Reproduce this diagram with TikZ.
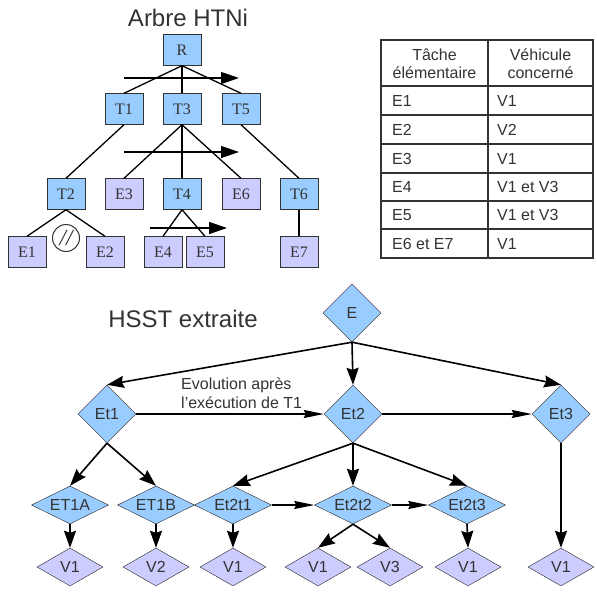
\documentclass[tikz,border=0pt]{standalone}
\usepackage{fontspec}
\setmainfont{Liberation Sans}
\newfontfamily\boxfont{Liberation Serif}
\usetikzlibrary{shapes.geometric, arrows.meta}

\definecolor{taskblue}{HTML}{99CCFF}
\definecolor{elemlilac}{HTML}{CCCCFF}
\definecolor{inkgray}{HTML}{333333}

\begin{document}
\begin{tikzpicture}[x=1pt, y=-1pt, >={Stealth[length=17pt, width=12pt, inset=2pt]},
  task/.style={draw=inkgray, fill=taskblue, minimum width=38pt, minimum height=31pt,
    inner sep=0pt, text=inkgray, font=\boxfont\fontsize{16}{16}\selectfont},
  elem/.style={task, fill=elemlilac},
  branch/.style={line width=1.3pt},
  order/.style={line width=1.3pt, -{Triangle[length=18pt, width=12pt]}},
  state/.style={diamond, draw=black!85, fill=taskblue, minimum width=58pt, minimum height=58pt,
    inner sep=0pt, text=inkgray, font=\fontsize{16}{16}\selectfont},
  substate/.style={state, aspect=2, minimum width=77pt, minimum height=38pt},
  vehicle/.style={state, aspect=2, fill=elemlilac, minimum width=66pt, minimum height=38pt},
  link/.style={line width=1.6pt, ->},
  flat/.style={line width=1.6pt, -{Stealth[length=20pt, width=8pt, inset=2pt]}},
  cell/.style={anchor=west, inner sep=0pt, text height=11.5pt, text depth=0pt,
    text=inkgray, font=\fontsize{16}{16}\selectfont}]

  \useasboundingbox (0,0) rectangle (597,597);

  %%%%%%%%%%%%%%%%%%%%%%%%%%%%%%%%%%%%%%%%%%%%%%%%%
  \begin{scope}
    % Title
    \node[text=inkgray, font=\fontsize{24}{24}\selectfont] (tree) at (188,18) {Arbre HTNi};

    % Boxes
    \node[task] (R) at (182,50) {R};
    \node[task] (T1) at (124,109) {T1};
    \node[task] (T3) at (182,109) {T3};
    \node[task] (T5) at (241,109) {T5};
    \node[task] (T2) at (66,194) {T2};
    \node[elem] (E3) at (124,194) {E3};
    \node[task] (T4) at (182,194) {T4};
    \node[elem] (E6) at (241,194) {E6};
    \node[task] (T6) at (299,194) {T6};
    \node[elem] (E1) at (27,252) {E1};
    \node[elem] (E2) at (105,252) {E2};
    \node[elem] (E4) at (163,252) {E4};
    \node[elem] (E5) at (205,252) {E5};
    \node[elem] (E7) at (299,252) {E7};

    % Branches
    \foreach \a/\b in {R/T1, R/T3, R/T5, T1/T2, T3/E3, T3/T4, T3/E6, T5/T6,
                       T2/E1, T2/E2, T4/E4, T4/E5, T6/E7}
      \draw[branch] (\a.south) -- (\b.north);

    % Parallel mark
    \node[circle, draw=inkgray, line width=1pt, fill=white, minimum size=27pt, inner sep=0pt,
          text=inkgray, font=\boxfont\itshape\fontsize{23}{23}\selectfont] (par) at (66,238) {//};

    % Order arrows
    \coordinate (o1) at (124,78);  \coordinate (o1e) at (239,78);
    \coordinate (o2) at (124,152); \coordinate (o2e) at (239,152);
    \coordinate (o3) at (150,228); \coordinate (o3e) at (227,228);
    \draw[order] (o1) -- (o1e);
    \draw[order] (o2) -- (o2e);
    \draw[order] (o3) -- (o3e);
  \end{scope}

  %%%%%%%%%%%%%%%%%%%%%%%%%%%%%%%%%%%%%%%%%%%%%%%%%
  \begin{scope}[draw=inkgray]
    % Grid
    \draw[line width=1.2pt, inkgray] (381,40) rectangle (593,258);
    \draw[line width=1.2pt, inkgray] (488,40) -- (488,258);
    \foreach \y in {86,115,144,173,201,229}
      \draw[line width=1.2pt, inkgray] (381,\y) -- (593,\y);

    % Header
    \node[align=center, text=inkgray, font=\fontsize{16}{18}\selectfont] (h1) at (434.5,64) {Tâche\\élémentaire};
    \node[align=center, text=inkgray, font=\fontsize{16}{18}\selectfont] (h2) at (540.5,64) {Véhicule\\concerné};

    % Rows
    \foreach \y/\a/\b [count=\i] in {100.5/E1/V1, 129.5/E2/V2, 158.5/E3/V1,
                                     187/E4/V1 et V3, 215/E5/V1 et V3, 243.5/E6 et E7/V1} {
      \node[cell] (a\i) at (392,\y) {\a};
      \node[cell] (b\i) at (497,\y) {\b};
    }
  \end{scope}

  %%%%%%%%%%%%%%%%%%%%%%%%%%%%%%%%%%%%%%%%%%%%%%%%%
  \begin{scope}
    % Title
    \node[text=inkgray, font=\fontsize{24}{24}\selectfont] (hsst) at (183,319) {HSST extraite};

    % States
    \node[state] (E) at (352,313) {E};
    \node[state] (Et1) at (107,414) {Et1};
    \node[state] (Et2) at (353,414) {Et2};
    \node[state] (Et3) at (561,414) {Et3};

    \node[substate] (ET1A) at (70,505) {ET1A};
    \node[substate] (ET1B) at (156,505) {ET1B};
    \node[substate] (Et2t1) at (233,505) {Et2t1};
    \node[substate] (Et2t2) at (353,505) {Et2t2};
    \node[substate] (Et2t3) at (467,505) {Et2t3};

    \node[vehicle] (va) at (70,567) {V1};
    \node[vehicle] (vb) at (156,567) {V2};
    \node[vehicle] (vc) at (233,567) {V1};
    \node[vehicle] (vd) at (318,567) {V1};
    \node[vehicle] (ve) at (390,567) {V3};
    \node[vehicle] (vf) at (468,567) {V1};
    \node[vehicle] (vg) at (561,567) {V1};

    % Transitions
    \foreach \a/\b in {E/Et1, E/Et2, E/Et3, Et1/ET1A, Et1/ET1B, Et2/Et2t1, Et2/Et2t2,
                       Et2/Et2t3, ET1A/va, ET1B/vb, Et2t1/vc, Et2t2/vd, Et2t2/ve,
                       Et2t3/vf, Et3/vg}
      \draw[link] (\a.south) -- (\b.north);
    \foreach \a/\b in {Et1/Et2, Et2/Et3, Et2t1/Et2t2, Et2t2/Et2t3}
      \draw[flat] (\a.east) -- (\b.west);

    % Label
    \node[anchor=west, align=left, inner sep=0pt, text=inkgray,
          font=\fontsize{16}{19}\selectfont] (evo) at (181,393) {Evolution après\\l\symbol{39}exécution de T1};
  \end{scope}

\end{tikzpicture}
\end{document}
